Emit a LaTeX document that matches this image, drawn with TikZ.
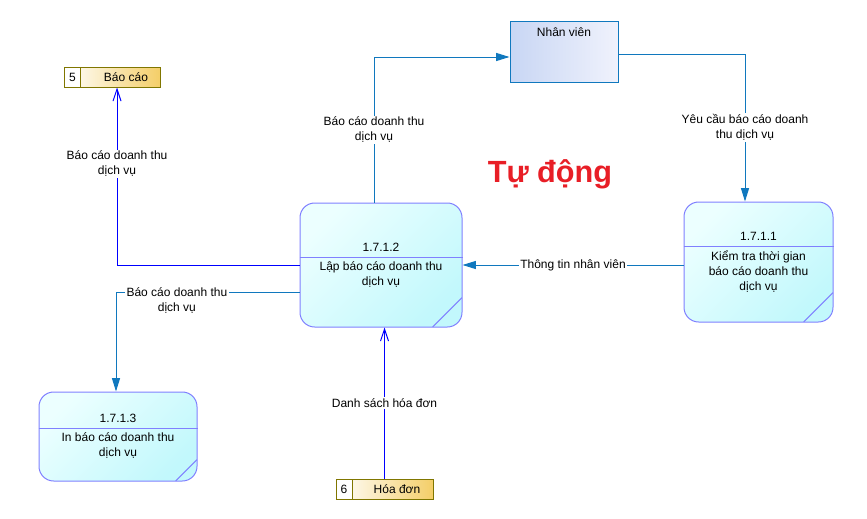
\documentclass[tikz,border=0pt]{standalone}
\usepackage{fontspec}
\setmainfont{Liberation Sans}
\usetikzlibrary{positioning,arrows.meta}

\definecolor{flowblue}{RGB}{16,120,190}
\definecolor{pureblue}{RGB}{0,0,255}
\definecolor{procedge}{RGB}{128,128,255}
\definecolor{proclight}{RGB}{236,255,255}
\definecolor{procdark}{RGB}{194,248,252}
\definecolor{staffdark}{RGB}{200,214,244}
\definecolor{stafflight}{RGB}{240,242,252}
\definecolor{storeedge}{RGB}{128,118,0}
\definecolor{storegold}{RGB}{244,206,104}
\definecolor{autored}{RGB}{232,30,38}

\begin{document}
\begin{tikzpicture}[x=0.75pt, y=-0.75pt, font=\fontsize{9}{11.25}\selectfont,
  proc/.style={draw=procedge, line width=0.75pt, rounded corners=11pt, top color=proclight, bottom color=procdark, shading angle=45, inner sep=0pt,
    path picture={\draw[procedge, line width=0.75pt] ([yshift=#1]path picture bounding box.south east) -- ([xshift=-#1]path picture bounding box.south east);}},
  staff/.style={draw=flowblue, line width=0.75pt, left color=staffdark, right color=stafflight, inner sep=0pt},
  store/.style={draw=storeedge, line width=0.75pt, fill=white, inner sep=0pt, minimum height=15pt,
    path picture={\shade[left color=white, right color=storegold] ([xshift=12.5pt]path picture bounding box.north west) rectangle (path picture bounding box.south east);
      \draw[storeedge, line width=0.75pt] ([xshift=12.5pt]path picture bounding box.north west) -- ([xshift=12.5pt]path picture bounding box.south west);}},
  pline/.style={procedge, line width=0.75pt},
  flow/.style={flowblue, line width=0.75pt, -{Triangle[length=10pt, width=6pt]}},
  bflow/.style={pureblue, line width=0.75pt, -{Straight Barb[length=9pt, width=6pt]}},
  lbl/.style={fill=white, text=black, inner sep=1pt, align=center}]
\useasboundingbox (0,0) rectangle (867,518);

% external entity and data stores
\node[staff, minimum width=81pt, minimum height=45.75pt] (staff) at (564,51.5) {};
\node[below=2pt of staff.north] (staffname) {Nhân viên};

\node[store, minimum width=72pt] (report) at (112,77) {};
\node (reportnum) at (72.5,77) {5};
\node (reportname) at (126,77) {Báo cáo};

\node[store, minimum width=72.75pt] (invoice) at (384.5,489) {};
\node (invoicenum) at (344,489) {6};
\node (invoicename) at (397,489) {Hóa đơn};

% processes
\node[proc=22pt, minimum width=121.5pt, minimum height=93pt] (p2) at (381,265) {};
\coordinate (p2div) at (381,257);
\draw[pline] (p2.west |- p2div) -- (p2.east |- p2div);
\node[above=0.5pt of p2div] (p2num) {1.7.1.2};
\node[below=0pt of p2div, align=center] (p2text) {Lập báo cáo doanh thu\\dịch vụ};

\node[proc=22pt, minimum width=111.75pt, minimum height=90pt] (p1) at (758.5,262) {};
\coordinate (p1div) at (758.5,246);
\draw[pline] (p1.west |- p1div) -- (p1.east |- p1div);
\node[above=0.5pt of p1div] (p1num) {1.7.1.1};
\node[below=0pt of p1div, align=center] (p1text) {Kiểm tra thời gian\\báo cáo doanh thu\\dịch vụ};

\node[proc=16pt, minimum width=118.5pt, minimum height=66.75pt] (p3) at (118,436.5) {};
\coordinate (p3div) at (118,428);
\draw[pline] (p3.west |- p3div) -- (p3.east |- p3div);
\node[above=0.5pt of p3div] (p3num) {1.7.1.3};
\node[below=0pt of p3div, align=center] (p3text) {In báo cáo doanh thu\\dịch vụ};

% flows
\coordinate (k1) at (374,57);
\draw[flow] (p2.north -| k1) |- (staff.west |- k1) node[lbl, pos=0.25] (l1) {Báo cáo doanh thu\\dịch vụ};

\coordinate (k2) at (745,54);
\draw[flow] (staff.east |- k2) -| (p1.north -| k2) node[lbl, pos=0.75] (l2) {Yêu cầu báo cáo doanh\\thu dịch vụ};

\draw[flow] (p1.west |- p2.east) -- (p2.east) node[lbl, midway] (l3) {Thông tin nhân viên};

\coordinate (k4) at (117,265);
\draw[bflow] (p2.west) -| (report.south -| k4) node[lbl, pos=0.785] (l4) {Báo cáo doanh thu\\dịch vụ};

\coordinate (k5) at (116,292);
\draw[flow] (p2.west |- k5) -| (p3.north -| k5) node[lbl, pos=0.334, yshift=-6pt] (l5) {Báo cáo doanh thu\\dịch vụ};

\draw[bflow] (invoice.north) -- (invoice.north |- p2.south) node[lbl, midway] (l6) {Danh sách hóa đơn};

\node[font=\fontsize{23}{28}\selectfont\bfseries, text=autored] (auto) at (550,174) {Tự động};
\end{tikzpicture}
\end{document}
